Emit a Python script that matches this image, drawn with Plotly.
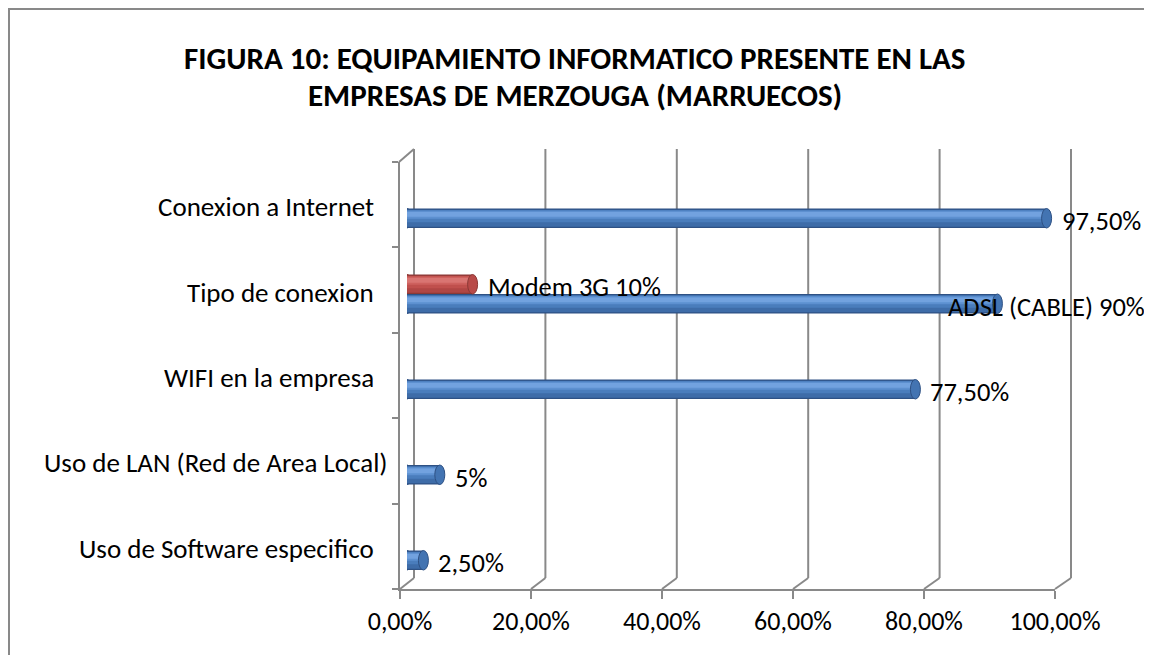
import plotly.graph_objects as go

# ---------------- data ----------------
categories = ["Conexion a Internet", "Tipo de conexion", "WIFI en la empresa",
              "Uso de LAN (Red de Area Local)", "Uso de Software especifico"]
blue_values = [0.975, 0.90, 0.775, 0.05, 0.025]
red_values = [None, 0.10, None, None, None]
blue_labels = ["97,50%", "ADSL (CABLE) 90%", "77,50%", "5%", "2,50%"]
red_labels = [None, "Modem 3G 10%", None, None, None]
tick_values = [0.0, 0.2, 0.4, 0.6, 0.8, 1.0]
tick_labels = ["0,00%", "20,00%", "40,00%", "60,00%", "80,00%", "100,00%"]
title_lines = ["FIGURA 10: EQUIPAMIENTO INFORMATICO PRESENTE EN LAS",
               "EMPRESAS DE MERZOUGA (MARRUECOS)"]

# ---------------- layout constants ----------------
PAGE_OFF = 8              # body margin of the html page
W, H = 1152 - PAGE_OFF, 655 - PAGE_OFF
FONT = "Calibri, Carlito, Lato, sans-serif"
FS_CAT = 27
FS_TXT = 26.5
FS_TICK = 26
FS_TITLE = 31
GRAY = "#898989"


def fx(px):
    return (px - PAGE_OFF) / W


def fy(py):
    return 1 - (py - PAGE_OFF) / H


# front (floor) axis, back wall, bar (mid-depth) planes, in screen pixels
FRONT_X = (400, 1055)
FRONT_Y = (162, 589)
BACK_X = (414, 1071)
BACK_Y = (149, 578)
BAR_X = (407, 1063)
BAR_Y = (156, 583.5)

cat_axis = list(reversed(categories))  # bottom to top
n_cat = len(categories)
cat_px = (BAR_Y[1] - BAR_Y[0]) / n_cat
bw = 19.5 / cat_px  # bar thickness in category units
blue_off = -1.5 * bw
red_off = -0.5 * bw

fig = go.Figure()

# helper (invisible) traces so the extra axes exist
fig.add_trace(go.Scatter(x=[0] * n_cat, y=categories, xaxis="x", yaxis="y",
                         mode="markers", marker=dict(opacity=0),
                         hoverinfo="skip", showlegend=False))
fig.add_trace(go.Scatter(x=[0, 1], y=[0, 1], xaxis="x2", yaxis="y2",
                         mode="markers", marker=dict(opacity=0),
                         hoverinfo="skip", showlegend=False))

blue_layers = [("#2E5184", 0.0, 1.0), ("#3E6CA8", 0.07, 0.93),
               ("#4A7DBC", 0.30, 0.92), ("#5D90D0", 0.48, 0.88),
               ("#72A2DF", 0.58, 0.82)]
red_layers = [("#8C3936", 0.0, 1.0), ("#B04644", 0.07, 0.93),
              ("#C0504D", 0.30, 0.92), ("#CE615E", 0.48, 0.88),
              ("#D97572", 0.58, 0.82)]


def add_cyl(values, layers, base_off):
    for color, lo, hi in layers:
        fig.add_trace(go.Bar(x=values, y=categories, orientation="h",
                             xaxis="x3", yaxis="y3",
                             width=bw * (hi - lo), offset=base_off + bw * lo,
                             marker=dict(color=color, line=dict(width=0)),
                             hoverinfo="skip", showlegend=False))


add_cyl(blue_values, blue_layers, blue_off)
add_cyl(red_values, red_layers, red_off)

shapes = []
# chart border
shapes.append(dict(type="rect", xref="paper", yref="paper",
                   x0=fx(9), x1=fx(1170), y0=fy(680), y1=fy(9),
                   line=dict(color=GRAY, width=2), layer="below"))
# back wall gridlines + floor diagonals
for v in tick_values:
    bx = BACK_X[0] + v * (BACK_X[1] - BACK_X[0])
    fxp = FRONT_X[0] + v * (FRONT_X[1] - FRONT_X[0])
    shapes.append(dict(type="line", xref="paper", yref="paper",
                       x0=fx(bx), x1=fx(bx), y0=fy(BACK_Y[1]), y1=fy(BACK_Y[0]),
                       line=dict(color=GRAY, width=2), layer="below"))
    shapes.append(dict(type="line", xref="paper", yref="paper",
                       x0=fx(fxp), x1=fx(bx), y0=fy(FRONT_Y[1]), y1=fy(BACK_Y[1]),
                       line=dict(color=GRAY, width=2), layer="below"))
# top-left diagonal of the side wall
shapes.append(dict(type="line", xref="paper", yref="paper",
                   x0=fx(FRONT_X[0] - 1), x1=fx(BACK_X[0]),
                   y0=fy(FRONT_Y[0]), y1=fy(BACK_Y[0]),
                   line=dict(color=GRAY, width=2), layer="below"))


def add_caps(values, base_off, cap_fill, cap_line, body):
    for i, v in enumerate(values):
        if v is None:
            continue
        idx = cat_axis.index(categories[i])
        y0 = idx + base_off
        y1 = y0 + bw
        # rounded left end
        shapes.append(dict(type="circle", xref="x3", yref="y3",
                           xsizemode="pixel", xanchor=0, x0=-5, x1=5,
                           y0=y0, y1=y1, fillcolor=body,
                           line=dict(color=cap_line, width=1), layer="below"))
        # right end cap
        shapes.append(dict(type="circle", xref="x3", yref="y3",
                           xsizemode="pixel", xanchor=v, x0=-5, x1=5,
                           y0=y0, y1=y1, fillcolor=cap_fill,
                           line=dict(color=cap_line, width=1), layer="above"))


add_caps(blue_values, blue_off, "#4374B2", "#2E5184", "#4A7DBC")
add_caps(red_values, red_off, "#B84A48", "#8C3936", "#C0504D")

annotations = []
# title
for k, line in enumerate(title_lines):
    annotations.append(dict(xref="paper", yref="paper", x=fx(575), y=fy(58 + 37 * k),
                            xanchor="center", yanchor="middle", showarrow=False,
                            text="<b>" + line + "</b>",
                            font=dict(family=FONT, size=FS_TITLE, color="black")))
# category labels (right aligned next to the axis; the long one is pushed
# towards the axis like the original)
for c in categories:
    long = len(c) > 28
    annotations.append(dict(xref="paper", yref="y", x=fx(390) if long else fx(376),
                            y=c, xanchor="right",
                            yanchor="middle", yshift=-2, showarrow=False, text=c,
                            font=dict(family=FONT, size=FS_CAT, color="black")))
# data labels
for vals, labs, off in ((blue_values, blue_labels, blue_off),
                        (red_values, red_labels, red_off)):
    for i, (v, t) in enumerate(zip(vals, labs)):
        if v is None:
            continue
        idx = cat_axis.index(categories[i])
        shift = -51 if 0.85 <= v < 0.95 else 13
        annotations.append(dict(xref="x3", yref="y3", x=v, y=idx + off + bw / 2,
                                xanchor="left", yanchor="middle", xshift=shift,
                                yshift=-3, showarrow=False, text=t,
                                font=dict(family=FONT, size=FS_TXT, color="black")))

fig.update_layout(
    width=W, height=H, margin=dict(l=0, r=0, t=0, b=0, pad=0),
    paper_bgcolor="white", plot_bgcolor="rgba(0,0,0,0)",
    showlegend=False, barmode="overlay",
    xaxis=dict(domain=[fx(FRONT_X[0]), fx(FRONT_X[1])], range=[0, 1], anchor="y",
               automargin=False,
               tickvals=tick_values, ticktext=tick_labels, ticks="outside",
               ticklen=8, tickwidth=2, tickcolor=GRAY, showline=True,
               linecolor=GRAY, linewidth=2, showgrid=False, zeroline=False,
               tickfont=dict(family=FONT, size=FS_TICK, color="black")),
    yaxis=dict(domain=[fy(FRONT_Y[1]), fy(FRONT_Y[0])], type="category",
               categoryorder="array", categoryarray=cat_axis, automargin=False,
               range=[-0.5, n_cat - 0.5], anchor="x", tickson="boundaries",
               ticks="outside", ticklen=6, tickwidth=2, tickcolor=GRAY,
               showline=True, linecolor=GRAY, linewidth=2, showgrid=False,
               showticklabels=False, zeroline=False),
    xaxis2=dict(domain=[fx(BACK_X[0]), fx(BACK_X[1])], range=[0, 1],
                anchor="y2", visible=False, automargin=False),
    yaxis2=dict(domain=[fy(BACK_Y[1]), fy(BACK_Y[0])], range=[0, 1],
                anchor="x2", visible=False, automargin=False),
    xaxis3=dict(domain=[fx(BAR_X[0]), fx(BAR_X[1])], range=[0, 1],
                anchor="y3", visible=False, automargin=False),
    yaxis3=dict(domain=[fy(BAR_Y[1]), fy(BAR_Y[0])], type="category",
                categoryorder="array", categoryarray=cat_axis, automargin=False,
                range=[-0.5, n_cat - 0.5], anchor="x3", visible=False),
    shapes=shapes, annotations=annotations,
)

fig.write_html("out.html")
